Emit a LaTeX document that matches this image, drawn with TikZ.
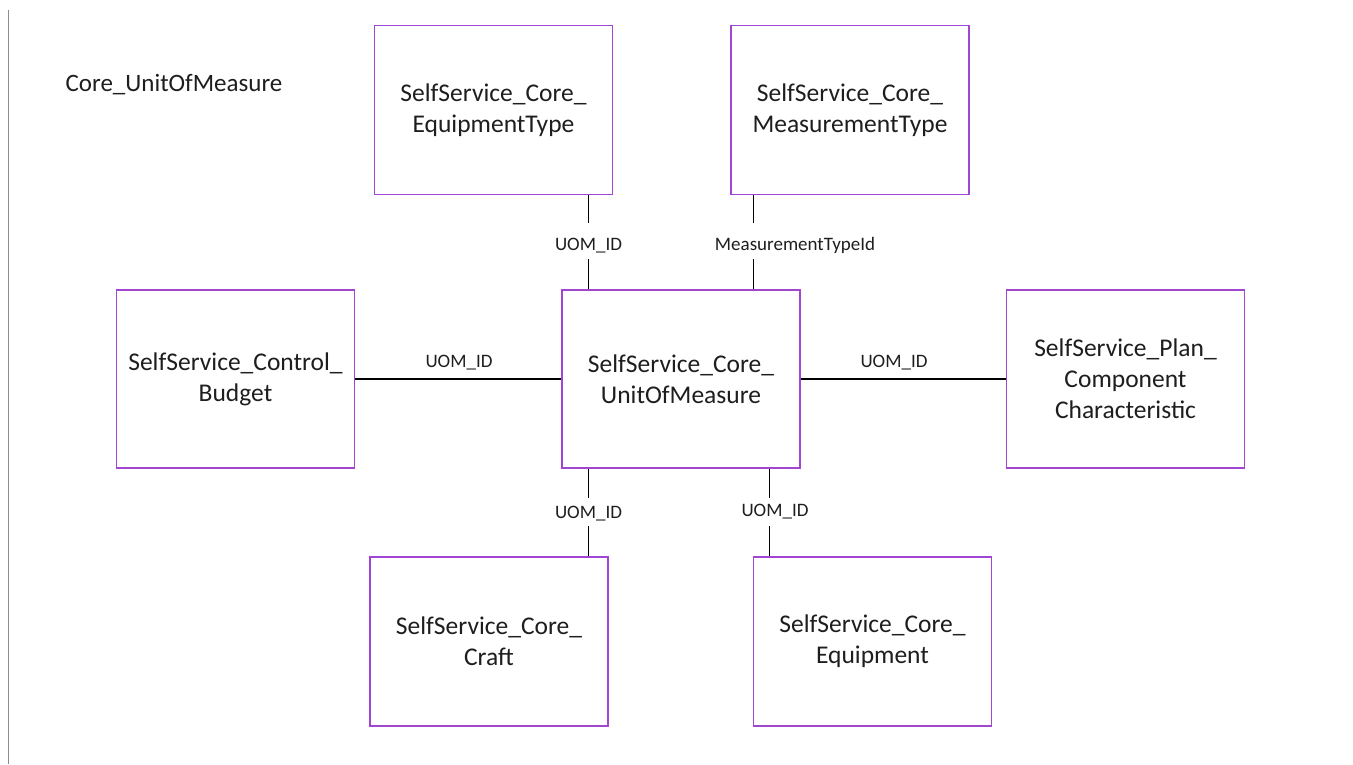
\documentclass[tikz,border=0pt]{standalone}
\usepackage{fontspec}
\setmainfont{Carlito}
\definecolor{boxpurple}{RGB}{160,70,210}
\definecolor{txt}{RGB}{30,30,30}
\definecolor{edgegray}{RGB}{140,140,140}
\tikzset{
  entity/.style={draw=boxpurple, line width=1.3pt, fill=white, minimum width=238pt, minimum height=178pt,
    align=center, text=txt, font=\fontsize{25.5}{31}\selectfont, inner sep=0pt},
  entityshort/.style={entity, minimum height=169pt},
  rel/.style={text=txt, font=\fontsize{19}{22}\selectfont, inner sep=0pt},
  conn/.style={draw=black, line width=1.1pt}
}
\begin{document}
\begin{tikzpicture}[x=1pt,y=-1pt]
\useasboundingbox[fill=white] (0,0) rectangle (1353,764);
\draw[edgegray, line width=1.5pt] (8.5,10) -- (8.5,764);
\node[text=txt, font=\fontsize{25}{30}\selectfont, inner sep=0pt] (title) at (174,85) {Core\_UnitOfMeasure};

\node[entityshort] (et) at (493.5,110) {SelfService\_Core\_\\EquipmentType};
\node[entityshort] (mt) at (850,110) {SelfService\_Core\_\\MeasurementType};
\node[entity] (bud) at (235.5,379) {SelfService\_Control\_\\Budget};
\node[entity] (c) at (681,379) {SelfService\_Core\_\\UnitOfMeasure};
\node[entity] (pc) at (1125.5,379) {SelfService\_Plan\_\\Component\\Characteristic};
\node[entityshort] (cr) at (489,641.5) {SelfService\_Core\_\\Craft};
\node[entityshort] (eq) at (872.5,641.5) {SelfService\_Core\_\\Equipment};

% top connectors
\node[rel] (l1) at (588.5,246) {UOM\_ID};
\draw[conn] (et.south -| l1) -- ++(0,28);
\draw[conn] (c.north -| l1) -- ++(0,-30);

\node[rel] (l2) at (795,245) {MeasurementTypeId};
\coordinate (m2) at (753.3,0);
\draw[conn] (mt.south -| m2) -- ++(0,28);
\draw[conn] (c.north -| m2) -- ++(0,-30);

% horizontal connectors
\node[rel] (l3) at (459,363) {UOM\_ID};
\draw[conn] (bud.east) -- (c.west);
\node[rel] (l4) at (894,363) {UOM\_ID};
\draw[conn] (c.east) -- (pc.west);

% bottom connectors
\node[rel] (l5) at (588.5,514) {UOM\_ID};
\draw[conn] (c.south -| l5) -- ++(0,29);
\draw[conn] (cr.north -| l5) -- ++(0,-30);

\node[rel] (l6) at (775,512) {UOM\_ID};
\coordinate (m6) at (769.5,0);
\draw[conn] (c.south -| m6) -- ++(0,29);
\draw[conn] (eq.north -| m6) -- ++(0,-30);
\end{tikzpicture}
\end{document}
